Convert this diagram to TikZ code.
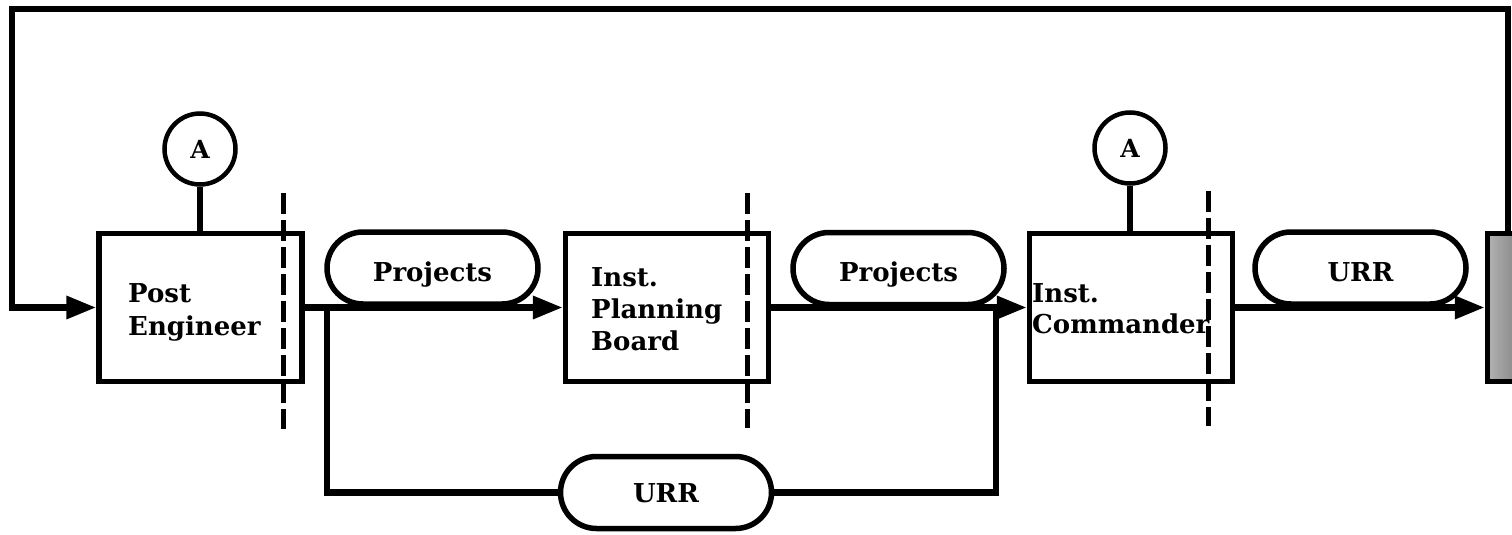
\documentclass[tikz,border=0pt]{standalone}
\usepackage{fontspec}
\setmainfont{DejaVu Serif}
\usetikzlibrary{arrows.meta,shapes.misc}
\begin{document}
\begin{tikzpicture}[x=1pt,y=-1pt,
  every node/.style={font=\bfseries\fontsize{26}{32}\selectfont},
  unit/.style={draw, rectangle, line width=5.5pt, minimum width=203pt,
    minimum height=148pt, inner sep=0pt},
  pill/.style={draw, rounded rectangle, line width=5.5pt, fill=white,
    minimum width=211pt, minimum height=72pt, inner sep=0pt,
    text height=26pt, text depth=0pt},
  tag/.style={draw, circle, line width=4.5pt, minimum size=71pt, inner sep=0pt,
    text height=18pt, text depth=0pt,
    font=\bfseries\fontsize{25}{25}\selectfont},
  flow/.style={line width=6.5pt},
  tip/.style={-{Triangle[length=30pt,width=22pt]}},
  cut/.style={line width=5pt, dash pattern=on 21pt off 6pt},
  lbl/.style={anchor=base west, align=left, inner sep=0pt}]

\useasboundingbox (0,0) rectangle (1512,535);
\fill[white] (0,0) rectangle (1512,535);
\clip (0,0) rectangle (1512,535);

% organisational units
\node[unit] (pe)  at (200.5,307.5) {};
\node[unit] (ipb) at (667,307.5) {};
\node[unit] (ic)  at (1131,307.5) {};
\node[unit, minimum width=80pt, left color=black!30, right color=black!75]
  (rb) at (1527.5,307.5) {};

% unit labels (anchored on the baseline of the last line)
\node[lbl] (pelbl)  at (128,335)  {Post\\[1pt]Engineer};
\node[lbl] (ipblbl) at (591,350)  {Inst.\\Planning\\Board};
\node[lbl] (iclbl)  at (1032,333) {Inst.\\[-1pt]Commander};

% "A" tags above units
\node[tag] (a1) at (200,149) {A};
\node[tag] (a2) at (1130,148) {A};
\draw[flow] (a1.south) -- (a1.south |- pe.north);
\draw[flow] (a2.south) -- (a2.south |- ic.north);

% responsibility cut lines
\draw[cut] (283,193) -- (283,429);
\draw[cut] (747,193) -- (747,428);
\draw[cut] (1208,191) -- (1208,426);

% main flow
\coordinate (bl) at (327,307.5);
\coordinate (br) at (996,307.5);
\draw[flow,tip] (pe.east) -- (pe.east -| ipb.west);
\draw[flow,tip] (ipb.east) -- (ipb.east -| ic.west);
\draw[flow,tip] (ic.east) -- (ic.east -| rb.west);

% document pills sitting on the flow
\node[pill] (p1) at (432.5,268) {Projects};
\node[pill] (p2) at (898.5,268.5) {Projects};
\node[pill] (p3) at (1360.5,268) {URR};

% URR bypass
\node[pill, text height=20pt] (p4) at (666,492.5) {URR};
\draw[flow] (bl) |- (p4.west);
\draw[flow] (p4.east) -| (br);

% feedback loop along the top
\coordinate (ne) at (1508,9);
\coordinate (nw) at (12,9);
\draw[flow,tip] (ne |- rb.north) -- (ne) -- (nw) |- (pe.west);
\end{tikzpicture}
\end{document}
